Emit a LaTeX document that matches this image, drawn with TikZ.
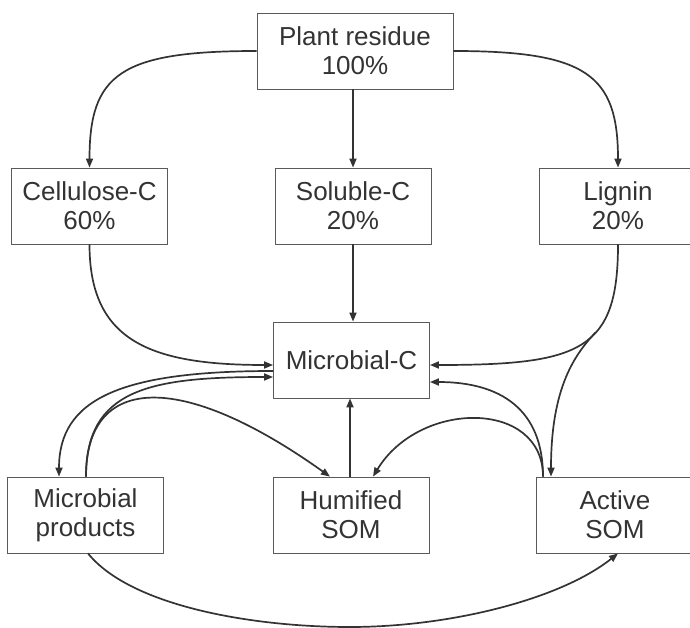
\documentclass[tikz,border=0pt]{standalone}
\usepackage{fontspec}
\setmainfont{Liberation Sans}
\usetikzlibrary{arrows.meta,calc}
\definecolor{ink}{HTML}{333333}
\definecolor{boxline}{HTML}{5A5A5A}
\begin{document}
\begin{tikzpicture}[x=1pt,y=-1pt,
  box/.style={draw=boxline, line width=0.8pt, text=ink, minimum width=156pt,
    minimum height=76pt, inner sep=0pt, align=center,
    font=\fontsize{26}{29}\selectfont},
  flow/.style={draw=ink, line width=1.7pt, -{Triangle[length=9pt,width=7pt]}},
]
\useasboundingbox (0,0) rectangle (690,628);

% pools
\node[box, minimum width=196pt] (pr)  at (355,51)    {Plant residue\\100\%};
\node[box]                      (cel) at (89.5,206)  {Cellulose-C\\60\%};
\node[box]                      (sol) at (353,206)   {Soluble-C\\20\%};
\node[box, minimum width=158pt] (lig) at (618,206)   {Lignin\\20\%};
\node[box]                      (mc)  at (351.5,360) {Microbial-C};
\node[box]                      (mp)  at (85.5,515)  {Microbial\\products};
\node[box]                      (hum) at (351,515)   {Humified\\SOM};
\node[box, minimum width=158pt] (act) at (615,515)   {Active\\SOM};
\coordinate (low) at (350,627);

% residue split
\draw[flow] (pr.west) .. controls +(-137,0) and +(0,-93) .. (cel.north);
\draw[flow] (pr.south -| sol.north) -- (sol.north);
\draw[flow] (pr.east) .. controls +(133,0) and +(0,-93) .. (lig.north);

% into microbial biomass
\draw[flow] (cel.south) .. controls +(0,96) and +(-124,0) .. ([yshift=-5pt]mc.west);
\draw[flow] (sol.south) -- (sol.south |- mc.north);
\draw[flow] (lig.south) .. controls +(0,106) and +(151,0)
  .. coordinate[pos=0.4] (fork) ([yshift=-5pt]mc.east);
% lignin branch to active SOM leaves the curve at the fork
\draw[flow] (fork) .. controls +(-20,21.6) and +(0,-90) .. ([xshift=-64pt]act.north);

% microbial products loop
\draw[flow] ([yshift=-11pt]mc.west) .. controls +(-154,0) and +(0,-77) .. ([xshift=-26.5pt]mp.north);
\draw[flow] ([xshift=0.5pt]mp.north) .. controls +(0,-87) and +(-124,0) .. ([yshift=-17pt]mc.west);
\draw[flow] ([xshift=0.5pt]mp.north) .. controls +(0,-102) and +(-150,-107) .. ([xshift=-21pt]hum.north);

% humified and active SOM
\draw[flow] ([xshift=-1pt]hum.north) -- ([xshift=-1pt]hum.north |- mc.south);
\draw[flow] ([xshift=-72pt]act.north) .. controls +(0,-67) and +(71,0) .. ([yshift=-22pt]mc.east);
\draw[flow] ([xshift=-72pt]act.north) .. controls +(0,-77) and +(47,-77) .. ([xshift=22pt]hum.north);
\draw[flow] ([xshift=2.5pt]mp.south) .. controls +(42,52) and +(-100,0) .. (low)
  .. controls +(100,0) and +(-58,46) .. ([xshift=3pt]act.south);
\end{tikzpicture}
\end{document}
